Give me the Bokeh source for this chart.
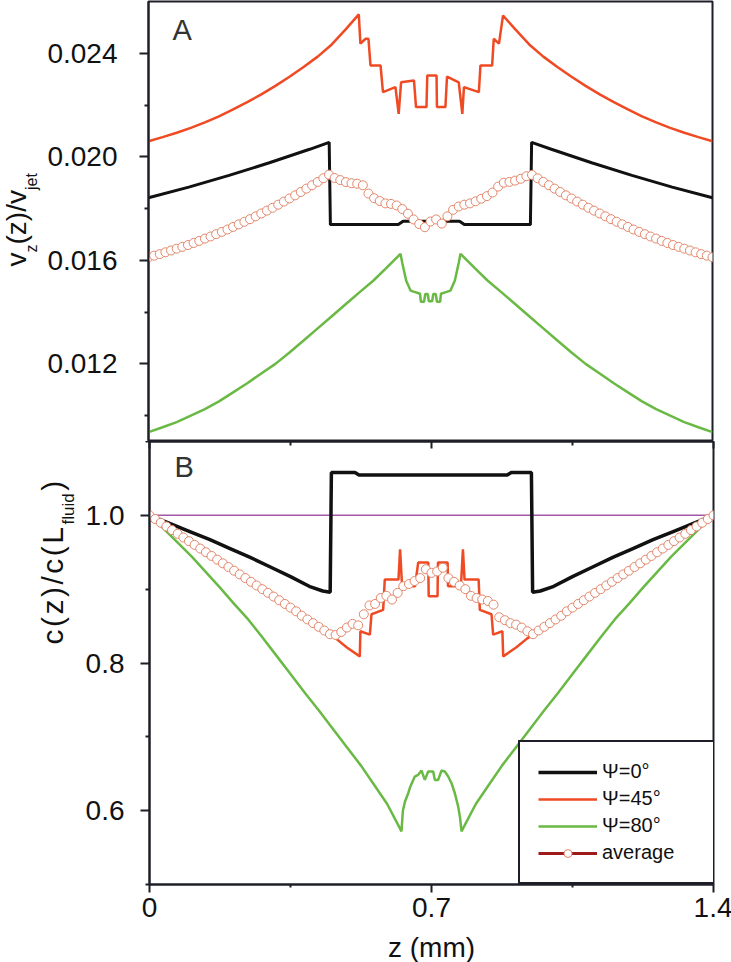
import math
from bokeh.plotting import figure
from bokeh.layouts import column, row
from bokeh.models import (Range1d, FixedTicker, PrintfTickFormatter, CustomJSTickFormatter,
                          LinearAxis, Label, Legend, LegendItem)
from bokeh.embed import file_html
from bokeh.resources import INLINE

FONT = "Liberation Sans"
AXC = "#1e1e28"
BLACK = "#111111"
RED = "#ef4a23"
GREEN = "#6ab945"
AVG_EDGE = "#e3876b"
AVG_LINE = "#9e1b1b"
MAGENTA = "#a558a8"

# ---------------- data ----------------
z_avg = [0.000, 0.014, 0.028, 0.042, 0.056, 0.070, 0.084, 0.098, 0.112, 0.126,
         0.140, 0.154, 0.168, 0.182, 0.196, 0.210, 0.224, 0.238, 0.252, 0.266,
         0.280, 0.294, 0.308, 0.322, 0.336, 0.350, 0.364, 0.378, 0.392, 0.406,
         0.420, 0.434, 0.448, 0.462, 0.476, 0.490, 0.504, 0.518, 0.532, 0.546,
         0.560, 0.574, 0.588, 0.602, 0.616, 0.630, 0.644, 0.658, 0.672, 0.686,
         0.700, 0.714, 0.728, 0.742, 0.756, 0.770, 0.784, 0.798, 0.812, 0.826,
         0.840, 0.854, 0.868, 0.882, 0.896, 0.910, 0.924, 0.938, 0.952, 0.966,
         0.980, 0.994, 1.008, 1.022, 1.036, 1.050, 1.064, 1.078, 1.092, 1.106,
         1.120, 1.134, 1.148, 1.162, 1.176, 1.190, 1.204, 1.218, 1.232, 1.246,
         1.260, 1.274, 1.288, 1.302, 1.316, 1.330, 1.344, 1.358, 1.372, 1.386,
         1.400]

vz_avg = [0.01612, 0.01618, 0.01624, 0.01631, 0.01638, 0.01645, 0.01652, 0.01659, 0.01667, 0.01675,
          0.01684, 0.01692, 0.01701, 0.01710, 0.01719, 0.01729, 0.01739, 0.01749, 0.01759, 0.01770,
          0.01781, 0.01792, 0.01803, 0.01815, 0.01827, 0.01839, 0.01851, 0.01864, 0.01877, 0.01890,
          0.01903, 0.01917, 0.01931,
          0.01918, 0.01910, 0.01902, 0.01898, 0.01896, 0.01890, 0.01858, 0.01840, 0.01829, 0.01820,
          0.01818, 0.01812, 0.01798, 0.01780, 0.01758, 0.01740, 0.01728, 0.01750, 0.01758, 0.01742,
          0.01770, 0.01795, 0.01808, 0.01815, 0.01820, 0.01828, 0.01838, 0.01848, 0.01862, 0.01885,
          0.01900, 0.01903, 0.01908, 0.01915, 0.01925, 0.01930,
          0.01917, 0.01903, 0.01890, 0.01877, 0.01864, 0.01851, 0.01839, 0.01827, 0.01815, 0.01803,
          0.01792, 0.01781, 0.01770, 0.01759, 0.01749, 0.01739, 0.01729, 0.01719, 0.01710, 0.01701,
          0.01692, 0.01684, 0.01675, 0.01667, 0.01659, 0.01652, 0.01645, 0.01638, 0.01631, 0.01624,
          0.01618, 0.01612]

c_avg = [1.000, 0.995, 0.990, 0.985, 0.980, 0.975, 0.970, 0.965, 0.960, 0.955,
         0.950, 0.945, 0.940, 0.935, 0.930, 0.925, 0.920, 0.915, 0.910, 0.905,
         0.900, 0.895, 0.890, 0.885, 0.880, 0.875, 0.870, 0.864, 0.859, 0.854,
         0.849, 0.844, 0.839,
         0.838, 0.842, 0.848, 0.853, 0.851, 0.866, 0.878, 0.880, 0.888, 0.891,
         0.886, 0.895, 0.904, 0.907, 0.911, 0.915, 0.927, 0.922, 0.924, 0.929,
         0.915, 0.910, 0.905, 0.900, 0.891, 0.888, 0.886, 0.884, 0.879, 0.862,
         0.858, 0.854, 0.852, 0.848, 0.843, 0.839,
         0.844, 0.849, 0.854, 0.859, 0.864, 0.870, 0.875, 0.880, 0.885, 0.890,
         0.895, 0.900, 0.905, 0.910, 0.915, 0.920, 0.925, 0.930, 0.935, 0.940,
         0.945, 0.950, 0.955, 0.960, 0.965, 0.970, 0.975, 0.980, 0.985, 0.990,
         0.995, 1.000]

# Psi = 0 deg
z_0A = [0.0, 0.1, 0.2, 0.3, 0.4, 0.4485, 0.4515, 0.620, 0.632, 0.772, 0.784, 0.948, 0.951,
        1.0, 1.1, 1.2, 1.3, 1.4]
vz_0 = [0.01842, 0.01883, 0.01928, 0.01977, 0.02029, 0.02056, 0.01738, 0.01738, 0.01751, 0.01751,
        0.01738, 0.01738, 0.02056, 0.02029, 0.01977, 0.01928, 0.01883, 0.01842]

z_0B = [0.0, 0.05, 0.1, 0.15, 0.2, 0.25, 0.3, 0.35, 0.4, 0.43, 0.4485, 0.4515, 0.510, 0.520,
        0.888, 0.898, 0.948, 0.951, 0.97, 1.0, 1.05, 1.1, 1.15, 1.2, 1.25, 1.3, 1.35, 1.4]
c_0 = [1.000, 0.989, 0.978, 0.967, 0.955, 0.943, 0.930, 0.917, 0.903, 0.8975, 0.8959, 1.058, 1.058, 1.0547,
       1.0547, 1.058, 1.058, 0.8959, 0.8975, 0.903, 0.917, 0.930, 0.943, 0.955, 0.967, 0.978, 0.989, 1.000]

# Psi = 45 deg
z_45A = [0.0, 0.035, 0.07, 0.105, 0.14, 0.175, 0.21, 0.245, 0.28, 0.315, 0.35, 0.385, 0.42, 0.455, 0.49, 0.522,
         0.526, 0.539, 0.546, 0.551, 0.576, 0.582, 0.613, 0.621, 0.627, 0.659, 0.664, 0.690, 0.692, 0.715,
         0.716, 0.737, 0.741, 0.770, 0.779, 0.783, 0.820, 0.824, 0.853, 0.857, 0.870, 0.880,
         0.91, 0.945, 0.98, 1.015, 1.05, 1.085, 1.12, 1.155, 1.19, 1.225, 1.26, 1.295, 1.33, 1.365, 1.4]
vz_45 = [0.02060, 0.02076, 0.02093, 0.02112, 0.02133, 0.02156, 0.02183, 0.02211, 0.02241, 0.02274, 0.02309,
         0.02347, 0.02387, 0.02434, 0.02493, 0.02550,
         0.02437, 0.02456, 0.02456, 0.02353, 0.02353, 0.02250, 0.02269, 0.02166, 0.02288, 0.02295,
         0.02192, 0.02192, 0.02314, 0.02314, 0.02192, 0.02192, 0.02310, 0.02288, 0.02166, 0.02269,
         0.02250, 0.02353, 0.02353, 0.02456, 0.02437, 0.02546,
         0.02493, 0.02434, 0.02387, 0.02347, 0.02309, 0.02274, 0.02241, 0.02211, 0.02183, 0.02156,
         0.02133, 0.02112, 0.02093, 0.02076, 0.02060]

z_45B = [0.0, 0.05, 0.1, 0.15, 0.2, 0.25, 0.3, 0.35, 0.4, 0.45, 0.463, 0.49, 0.522,
         0.5235, 0.547, 0.551, 0.580, 0.584, 0.618, 0.622, 0.627, 0.659, 0.667, 0.692, 0.693, 0.715,
         0.716, 0.740, 0.741, 0.773, 0.778, 0.782, 0.817, 0.820, 0.849, 0.853, 0.876, 0.878,
         0.91, 0.937, 0.95, 1.0, 1.05, 1.1, 1.15, 1.2, 1.25, 1.3, 1.35, 1.4]
c_45 = [1.000, 0.983, 0.965, 0.947, 0.929, 0.911, 0.893, 0.875, 0.857, 0.838, 0.833, 0.821, 0.809,
        0.843, 0.8385, 0.866, 0.872, 0.913, 0.913, 0.954, 0.904, 0.904, 0.936, 0.936, 0.8905, 0.8905,
        0.936, 0.936, 0.904, 0.904, 0.954, 0.913, 0.913, 0.872, 0.866, 0.8385, 0.843, 0.809,
        0.821, 0.833, 0.838, 0.857, 0.875, 0.893, 0.911, 0.929, 0.947, 0.965, 0.983, 1.000]

# Psi = 80 deg
z_80A = [0.0, 0.035, 0.07, 0.105, 0.14, 0.175, 0.21, 0.245, 0.28, 0.315, 0.35, 0.385, 0.42, 0.455, 0.49,
         0.525, 0.5585, 0.59, 0.6255,
         0.630, 0.6395, 0.6504, 0.660, 0.674, 0.676, 0.684, 0.687, 0.693, 0.696, 0.704, 0.707, 0.713,
         0.716, 0.724, 0.726, 0.740, 0.7496, 0.7605, 0.770, 0.7745,
         0.81, 0.8415, 0.875, 0.91, 0.945, 0.98, 1.015, 1.05, 1.085, 1.12, 1.155, 1.19, 1.225, 1.26,
         1.295, 1.33, 1.365, 1.4]
vz_80 = [0.00936, 0.00955, 0.00975, 0.01000, 0.01025, 0.01055, 0.01090, 0.01125, 0.01163, 0.01200,
         0.01244, 0.01290, 0.01337, 0.01384, 0.01431, 0.01478, 0.01522, 0.01570, 0.01625,
         0.01590, 0.01522, 0.01483, 0.01478, 0.01471, 0.01440, 0.01440, 0.01470, 0.01470, 0.01442,
         0.01442, 0.01470, 0.01470, 0.01440, 0.01440, 0.01471, 0.01478, 0.01483, 0.01522, 0.01590, 0.01625,
         0.01570, 0.01522, 0.01478, 0.01431, 0.01384, 0.01337, 0.01290, 0.01244, 0.01200, 0.01163,
         0.01125, 0.01090, 0.01055, 0.01025, 0.01000, 0.00975, 0.00955, 0.00936]

z_80B = [0.0, 0.035, 0.07, 0.105, 0.14, 0.175, 0.21, 0.245, 0.28, 0.315, 0.35, 0.385, 0.42, 0.455, 0.49,
         0.525, 0.56, 0.59, 0.6255,
         0.629, 0.634, 0.6422, 0.647, 0.6586, 0.667, 0.6752, 0.6834, 0.6918, 0.7042, 0.7082, 0.7166,
         0.7248, 0.733, 0.7415, 0.7497, 0.7579, 0.7663, 0.771, 0.7745,
         0.81, 0.84, 0.875, 0.91, 0.945, 0.98, 1.015, 1.05, 1.085, 1.12, 1.155, 1.19, 1.225, 1.26,
         1.295, 1.33, 1.365, 1.4]
c_80 = [1.000, 0.982, 0.963, 0.944, 0.923, 0.902, 0.880, 0.859, 0.835, 0.810, 0.785, 0.760, 0.736,
        0.711, 0.686, 0.661, 0.633, 0.609, 0.572,
        0.600, 0.612, 0.6236, 0.632, 0.6462, 0.6485, 0.6543, 0.6417, 0.653, 0.653, 0.6417, 0.6417,
        0.6543, 0.653, 0.6462, 0.6372, 0.6236, 0.6055, 0.590, 0.572,
        0.609, 0.633, 0.661, 0.686, 0.711, 0.736, 0.760, 0.785, 0.810, 0.835, 0.859, 0.880, 0.902,
        0.923, 0.944, 0.963, 0.982, 1.000]

z_ref = [0.0, 1.4]
c_ref = [1.0, 1.0]

x_major = [0.0, 0.7, 1.4]
x_minor = [0.35, 1.05]
yA_major = [0.012, 0.016, 0.020, 0.024]
yA_minor = [0.010, 0.014, 0.018, 0.022]
yB_major = [0.6, 0.8, 1.0]
yB_minor = [0.5, 0.7, 0.9, 1.1]
legend_labels = ["\u03a8=0\u00b0", "\u03a8=45\u00b0", "\u03a8=80\u00b0", "average"]

# ---------------- helpers ----------------
W = {'v': .5, 'z': .5, '(': .333, ')': .333, '/': .278, 'j': .222, 'e': .556, 't': .278,
     'c': .5, 'L': .556, 'f': .278, 'l': .222, 'u': .556, 'i': .222, 'd': .556}
MID = 0.3465  # em-box middle above the alphabetic baseline


def style_y(ax, standoff):
    ax.axis_line_color = AXC
    ax.axis_line_width = 2
    ax.major_tick_line_color = AXC
    ax.major_tick_line_width = 2
    ax.minor_tick_line_color = AXC
    ax.minor_tick_line_width = 2
    ax.major_tick_out = 9
    ax.major_tick_in = 0
    ax.minor_tick_out = 4
    ax.minor_tick_in = 0
    ax.major_label_text_font = FONT
    ax.major_label_text_font_size = "28px"
    ax.major_label_text_color = BLACK
    ax.major_label_standoff = standoff


def label_fig(w, h):
    f = figure(width=w, height=h, x_axis_location=None, y_axis_location=None,
               min_border_left=0, min_border_right=0, min_border_top=0, min_border_bottom=0,
               output_backend="svg", toolbar_location=None)
    f.outline_line_color = None
    f.xgrid.visible = False
    f.ygrid.visible = False
    return f


def rot_text(p, segments, y0, base_main, base_sub):
    # vertical (bottom-to-top) text; x given as alphabetic baseline, anchored at em-box middle
    y = y0
    for text, size, sub, gap in segments:
        base = base_sub if sub else base_main
        p.add_layout(Label(x=base - MID * size, y=y, x_units="screen", y_units="screen",
                           text=text, angle=math.pi / 2, text_font=FONT,
                           text_font_size=f"{size}px", text_baseline="middle",
                           text_align="left", text_color=BLACK))
        y += sum(W[ch] for ch in text) * size + gap


def panel_letter(p, text, x, y_base_from_bottom, size=29):
    p.add_layout(Label(x=x, y=y_base_from_bottom + MID * size, x_units="screen", y_units="screen",
                       text=text, text_font=FONT, text_font_size=f"{size}px",
                       text_color="#333333", text_baseline="middle", text_align="left"))


# ---------------- panel A ----------------
LA_W = 44
pA = figure(frame_width=564, frame_height=440, x_range=Range1d(0, 1.4), y_range=Range1d(0.009, 0.026),
            x_axis_location=None, min_border_left=148 - LA_W, min_border_right=19, min_border_top=1,
            min_border_bottom=0, output_backend="svg", toolbar_location=None)
pA.xgrid.visible = False
pA.ygrid.visible = False
pA.outline_line_color = AXC
pA.outline_line_width = 2
pA.outline_line_alpha = 1
ya = pA.yaxis[0]
ya.ticker = FixedTicker(ticks=yA_major, minor_ticks=yA_minor)
ya.formatter = PrintfTickFormatter(format="%.3f")
style_y(ya, 22)

pA.line(z_80A, vz_80, line_color=GREEN, line_width=2.5)
pA.line(z_45A, vz_45, line_color=RED, line_width=2.5)
pA.line(z_0A, vz_0, line_color=BLACK, line_width=3)
pA.scatter(z_avg, vz_avg, marker="circle", size=9, fill_color="white", line_color=AVG_EDGE, line_width=1)

panel_letter(pA, "A", 24, 401)

lA = label_fig(LA_W, 441)
rot_text(lA, [("v", 28, False, 0), ("z", 16, True, 0), ("(z)/v", 28, False, 0), ("jet", 16, True, 0)],
         175, 25.7, 37)

# ---------------- panel B ----------------
LB_W = 82
pB = figure(frame_width=564, frame_height=443, x_range=pA.x_range, y_range=Range1d(0.5, 1.1),
            min_border_left=148 - LB_W, min_border_right=19, min_border_top=0, min_border_bottom=0,
            output_backend="svg", toolbar_location=None)
pB.xgrid.visible = False
pB.ygrid.visible = False
pB.outline_line_color = AXC
pB.outline_line_width = 2
pB.outline_line_alpha = 1

yb = pB.yaxis[0]
yb.ticker = FixedTicker(ticks=yB_major, minor_ticks=yB_minor)
yb.formatter = PrintfTickFormatter(format="%.1f")
style_y(yb, 16)

xb = pB.xaxis[0]
xb.ticker = FixedTicker(ticks=x_major, minor_ticks=x_minor)
xb.formatter = CustomJSTickFormatter(code="return tick == 0 ? '0' : tick.toFixed(1);")
xb.axis_line_color = AXC
xb.axis_line_width = 2
xb.major_tick_line_color = AXC
xb.major_tick_line_width = 2
xb.minor_tick_line_color = AXC
xb.minor_tick_line_width = 2
xb.major_tick_out = 8
xb.major_tick_in = 0
xb.minor_tick_out = 3
xb.minor_tick_in = 0
xb.major_label_text_font = FONT
xb.major_label_text_font_size = "28px"
xb.major_label_text_color = BLACK
xb.major_label_standoff = 5
xb.axis_label = "z (mm)"
xb.axis_label_text_font = FONT
xb.axis_label_text_font_size = "28px"
xb.axis_label_text_font_style = "normal"
xb.axis_label_text_color = BLACK
xb.axis_label_standoff = 12

xt = LinearAxis(ticker=FixedTicker(ticks=x_major, minor_ticks=x_minor))
xt.formatter = CustomJSTickFormatter(code="return '';")
xt.axis_line_color = AXC
xt.axis_line_width = 2
xt.major_tick_line_color = AXC
xt.major_tick_line_width = 2
xt.minor_tick_line_color = AXC
xt.minor_tick_line_width = 2
xt.major_tick_in = 7
xt.major_tick_out = 0
xt.minor_tick_in = 4
xt.minor_tick_out = 0
xt.major_label_text_font_size = "1px"
xt.major_label_standoff = 0
pB.add_layout(xt, "above")

pB.line(z_ref, c_ref, line_color=MAGENTA, line_width=1.5)
rg = pB.line(z_80B, c_80, line_color=GREEN, line_width=2.5)
rr = pB.line(z_45B, c_45, line_color=RED, line_width=2.5)
rk = pB.line(z_0B, c_0, line_color=BLACK, line_width=3.5)
pB.scatter(z_avg, c_avg, marker="circle", size=9, fill_color="white", line_color=AVG_EDGE, line_width=1)

# legend-only renderers for "average" (placed outside the visible ranges)
la = pB.line(x=[-1.0, -0.9], y=[0.2, 0.2], line_color=AVG_LINE, line_width=3)
lm = pB.scatter(x=[-1.0], y=[0.2], marker="circle", size=8, fill_color="white", line_color=AVG_EDGE,
                line_width=1)

legend = Legend(items=[LegendItem(label=legend_labels[0], renderers=[rk]),
                       LegendItem(label=legend_labels[1], renderers=[rr]),
                       LegendItem(label=legend_labels[2], renderers=[rg]),
                       LegendItem(label=legend_labels[3], renderers=[la, lm])],
                location=(369, 0), margin=0, padding=18, spacing=4,
                glyph_width=59, glyph_height=20, label_height=20, label_width=95, label_standoff=5,
                border_line_color=AXC, border_line_width=2, border_line_alpha=1,
                background_fill_color="white", background_fill_alpha=1,
                label_text_font=FONT, label_text_font_size="20px", label_text_color=BLACK)
pB.add_layout(legend)

panel_letter(pB, "B", 25, 407)

lB = label_fig(LB_W, 443)
segsB = [(ch, 30, False, 2.5) for ch in "c(z)/c(L"] + [("fluid", 17, True, 2.5), (")", 30, False, 0)]
rot_text(lB, segsB, 159, 62, 74)

layout = column(row(lA, pA), row(lB, pB))
open("out.html", "w").write(file_html(layout, INLINE))
